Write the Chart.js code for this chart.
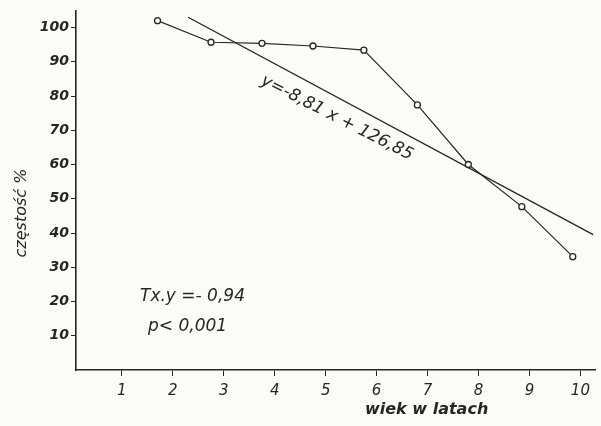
<!DOCTYPE html>
<html>
<head>
<meta charset="utf-8">
<script src="https://cdn.jsdelivr.net/npm/chart.js@4"></script>
<style>
  html, body { margin: 0; padding: 0; background: #fbfbf9; }
  #wrap { width: 601px; height: 426px; }
</style>
</head>
<body>
<div id="wrap"><canvas id="ageChart"></canvas></div>
<script>
// values
const ages = [1.7, 2.75, 3.75, 4.75, 5.75, 6.8, 7.8, 8.85, 9.85];
const frequency = [102, 95.7, 95.4, 94.6, 93.4, 77.4, 60, 47.7, 33.1];
const fitX = [2.3, 10.25];
const fitY = [103, 39.5];
const xTicks = [1, 2, 3, 4, 5, 6, 7, 8, 9, 10];
const yTicks = [10, 20, 30, 40, 50, 60, 70, 80, 90, 100];

const ink = '#262626';

const notes = {
    id: 'notes',
    afterDraw(chart) {
        const c = chart.ctx;
        c.save();
        c.fillStyle = ink;
        // axis titles
        c.font = 'italic 16px "DejaVu Sans"';
        c.textAlign = 'center';
        c.textBaseline = 'middle';
        c.save();
        c.translate(22, 213);
        c.rotate(-Math.PI / 2);
        c.fillText('częstość %', 0, 0);
        c.restore();
        c.font = 'italic bold 16px "DejaVu Sans"';
        c.textAlign = 'left';
        c.fillText('wiek w latach', 365, 410);
        // correlation text
        c.font = 'italic 17px "DejaVu Sans"';
        c.fillText('Tx.y =- 0,94', 140, 297);
        c.fillText('p< 0,001', 148, 327);
        // regression equation along the line
        c.save();
        c.translate(337, 118);
        c.rotate(27 * Math.PI / 180);
        c.textAlign = 'center';
        c.font = 'italic 17px "DejaVu Sans"';
        c.fillText('y=-8,81 x + 126,85', 0, 0);
        c.restore();
        c.restore();
    }
};

new Chart(document.getElementById('ageChart'), {
    type: 'scatter',
    data: {
        datasets: [{
            label: 'częstość',
            data: ages.map((a, i) => ({ x: a, y: frequency[i] })),
            showLine: true,
            borderColor: ink,
            borderWidth: 1.2,
            pointRadius: 3,
            pointBackgroundColor: '#fbfbf9',
            pointBorderColor: ink,
            pointBorderWidth: 1.3
        }, {
            label: 'regresja',
            data: fitX.map((a, i) => ({ x: a, y: fitY[i] })),
            showLine: true,
            borderColor: ink,
            borderWidth: 1.4,
            pointRadius: 0
        }]
    },
    options: {
        responsive: true,
        maintainAspectRatio: false,
        animation: false,
        layout: { padding: { top: 5, right: 1, left: 0, bottom: 0 } },
        scales: {
            x: {
                type: 'linear',
                min: 0.1,
                max: 10.3,
                afterFit: s => { s.height = 56; },
                afterBuildTicks: s => { s.ticks = xTicks.map(v => ({ value: v })); },
                grid: { drawOnChartArea: false, tickLength: 6, color: ink },
                border: { color: ink, width: 1.6 },
                ticks: {
                    color: ink,
                    padding: 6,
                    font: { family: 'DejaVu Sans', style: 'italic', size: 15 }
                }
            },
            y: {
                min: 0,
                max: 105,
                afterFit: s => { s.width = 76; },
                afterBuildTicks: s => { s.ticks = yTicks.map(v => ({ value: v })); },
                grid: { drawOnChartArea: false, tickLength: 5, color: ink },
                border: { color: ink, width: 1.6 },
                ticks: {
                    color: ink,
                    padding: 2,
                    font: { family: 'DejaVu Sans', style: 'italic', weight: 'bold', size: 14 }
                }
            }
        },
        plugins: {
            legend: { display: false },
            tooltip: { enabled: false }
        }
    },
    plugins: [notes]
});
</script>
</body>
</html>
